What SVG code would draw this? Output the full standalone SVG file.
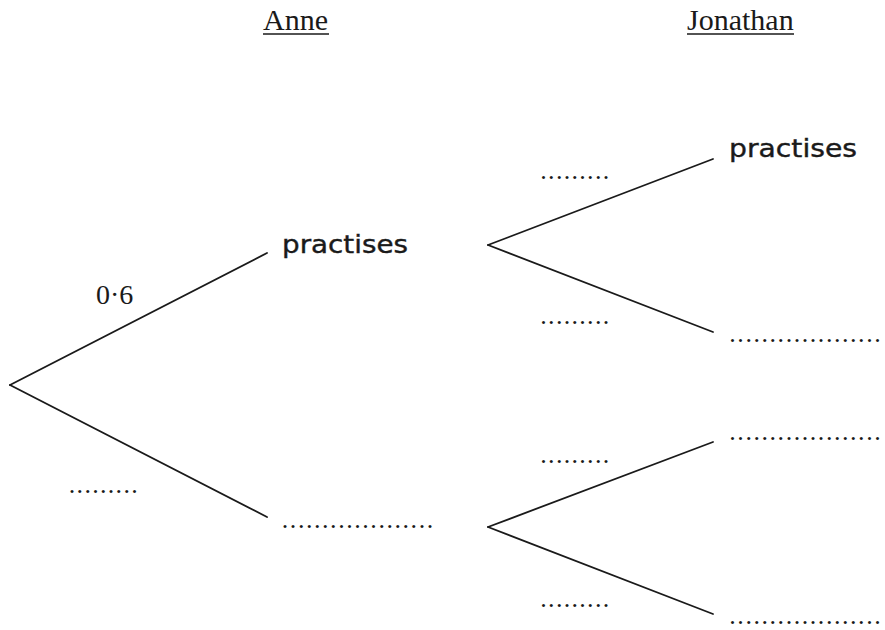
<svg xmlns="http://www.w3.org/2000/svg" width="885" height="630" viewBox="0 0 885 630">
  <style>
    .edge { stroke: #1a1a1a; stroke-width: 1.8; fill: none; stroke-linecap: round; }
    .head { font-family: "Liberation Serif", "Times New Roman", serif; font-size: 30px; fill: #1a1a1a; }
    .uline { stroke: #1a1a1a; stroke-width: 1.3; }
    .word { font-family: "Comic Sans MS", "DejaVu Sans", sans-serif; font-size: 25px; fill: #1a1a1a; stroke: #1a1a1a; stroke-width: 0.4; }
    .num { font-family: "Liberation Serif", "Times New Roman", serif; font-size: 28px; fill: #1a1a1a; }
    .dots { font-family: "Liberation Serif", "Times New Roman", serif; font-size: 26px; fill: #1a1a1a; }
    .short { letter-spacing: 1.3px; }
    .long { letter-spacing: 1.55px; }
  </style>
  <rect width="885" height="630" fill="#ffffff"/>

  <g id="header-anne">
    <text class="head" x="263" y="30">Anne</text>
    <line class="uline" x1="263" y1="34" x2="329" y2="34"/>
  </g>
  <g id="header-jonathan">
    <text class="head" x="687" y="30">Jonathan</text>
    <line class="uline" x1="687" y1="34" x2="794" y2="34"/>
  </g>

  <g id="connectors">
    <line class="edge" x1="10" y1="385" x2="267" y2="253"/>
    <line class="edge" x1="10" y1="385" x2="267" y2="517"/>
    <line class="edge" x1="488" y1="245" x2="713" y2="159"/>
    <line class="edge" x1="488" y1="245" x2="713" y2="332"/>
    <line class="edge" x1="488" y1="527" x2="713" y2="442"/>
    <line class="edge" x1="488" y1="527" x2="713" y2="614"/>
    <g id="edge-labels">
      <text class="num" x="96" y="304">0·6</text>
      <text class="dots short" x="68.8" y="493">.........</text>
      <text class="dots short" x="540.3" y="179">.........</text>
      <text class="dots short" x="540.3" y="324">.........</text>
      <text class="dots short" x="540.3" y="463">.........</text>
      <text class="dots short" x="540.3" y="607">.........</text>
    </g>
  </g>

  <g id="node-root"></g>
  <g id="node-anne-practises">
    <text class="word" x="282" y="253" textLength="126" lengthAdjust="spacingAndGlyphs">practises</text>
  </g>
  <g id="node-anne-other">
    <text class="dots long" x="281.8" y="528">...................</text>
  </g>
  <g id="node-jonathan-1a">
    <text class="word" x="729" y="157" textLength="128" lengthAdjust="spacingAndGlyphs">practises</text>
  </g>
  <g id="node-jonathan-1b">
    <text class="dots long" x="729.3" y="342">...................</text>
  </g>
  <g id="node-jonathan-2a">
    <text class="dots long" x="729.3" y="440">...................</text>
  </g>
  <g id="node-jonathan-2b">
    <text class="dots long" x="729.3" y="624">...................</text>
  </g>
</svg>
